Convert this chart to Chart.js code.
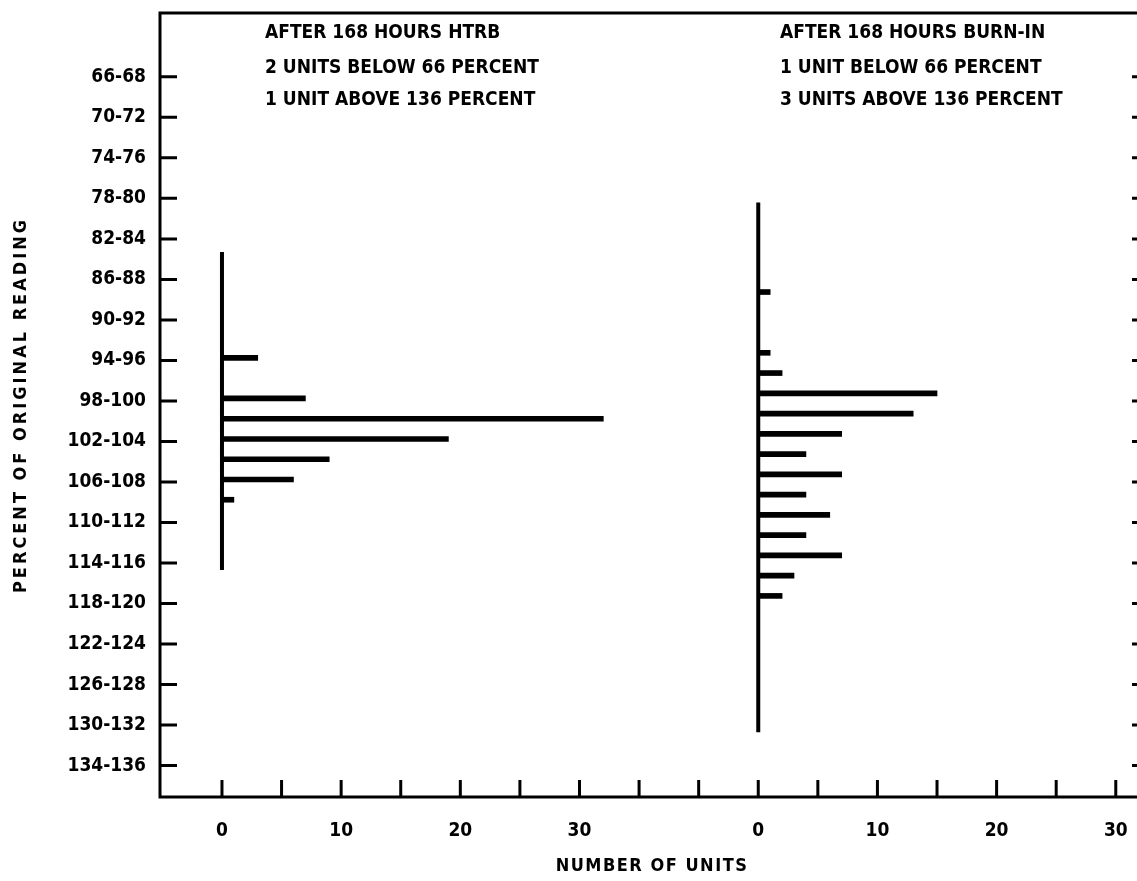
<!DOCTYPE html>
<html>
<head>
<meta charset="utf-8">
<title>Percent of original reading vs number of units</title>
<script src="https://cdn.jsdelivr.net/npm/chart.js@4.4.1/dist/chart.umd.min.js"></script>
<style>
  html, body { margin: 0; padding: 0; background: #fff; overflow: hidden; }
  #wrap { position: relative; width: 1150px; height: 881px; }
</style>
</head>
<body>
<div id="wrap"><canvas id="chart"></canvas></div>
<script>
  // ---- data ---------------------------------------------------------
  // y axis bins (percent of original reading), one label every 4 percent
  var binLabels = ['66-68', '70-72', '74-76', '78-80', '82-84', '86-88', '90-92',
                   '94-96', '98-100', '102-104', '106-108', '110-112', '114-116',
                   '118-120', '122-124', '126-128', '130-132', '134-136'];

  // after 168 hours HTRB (left panel)
  var htrbPct   = [95, 99, 101, 103, 105, 107, 109];
  var htrbUnits = [3, 7, 32, 19, 9, 6, 1];
  var htrbSpan  = [84.3, 115.7];

  // after 168 hours burn-in (right panel)
  var burnPct   = [88, 94, 96, 98, 100, 102, 104, 106, 108, 110, 112, 114, 116, 118];
  var burnUnits = [1, 1, 2, 15, 13, 7, 4, 7, 4, 6, 4, 7, 3, 2];
  var burnSpan  = [79.4, 131.7];

  var unitTicks = [0, 10, 20, 30];

  var htrbNotes = ['AFTER 168 HOURS HTRB', '2 UNITS BELOW 66 PERCENT', '1 UNIT ABOVE 136 PERCENT'];
  var burnNotes = ['AFTER 168 HOURS BURN-IN', '1 UNIT BELOW 66 PERCENT', '3 UNITS ABOVE 136 PERCENT'];

  // ---- layout helpers -----------------------------------------------
  var RIGHT_ZERO = 45;            // where the second panel's 0 sits on the shared x scale
  var FONT = '"DejaVu Sans Condensed", "DejaVu Sans", sans-serif';

  function binCenter(label) {
    var p = label.split('-');
    return (parseFloat(p[0]) + parseFloat(p[1])) / 2;
  }

  function bars(pct, units, zero) {
    return pct.map(function (p, i) { return { x: [zero, zero + units[i]], y: p }; });
  }

  function span(range, zero) {
    return [{ x: zero, y: range[0] }, { x: zero, y: range[1] }];
  }

  // frame, inward tick marks, notes and axis titles
  var framePlugin = {
    id: 'frame',
    afterDatasetsDraw: function (chart) {
      var ctx = chart.ctx, a = chart.chartArea;
      var xs = chart.scales.x, ys = chart.scales.y;
      ctx.save();
      ctx.strokeStyle = '#000';
      ctx.lineWidth = 3;
      ctx.strokeRect(a.left, a.top, a.right - a.left, a.bottom - a.top);

      ctx.beginPath();
      ys.ticks.forEach(function (t) {
        var y = ys.getPixelForValue(t.value);
        ctx.moveTo(a.left, y);  ctx.lineTo(a.left + 17, y);
        ctx.moveTo(a.right, y); ctx.lineTo(a.right - 10, y);
      });
      xs.ticks.forEach(function (t) {
        var x = xs.getPixelForValue(t.value);
        ctx.moveTo(x, a.bottom); ctx.lineTo(x, a.bottom - 17);
      });
      ctx.stroke();

      ctx.fillStyle = '#000';
      ctx.font = 'bold 19px ' + FONT;
      ctx.textBaseline = 'middle';
      ctx.textAlign = 'left';
      var lineY = [33, 68, 100];
      htrbNotes.forEach(function (s, i) { ctx.fillText(s, 265, lineY[i]); });
      burnNotes.forEach(function (s, i) { ctx.fillText(s, 780, lineY[i]); });

      // axis titles
      ctx.font = 'bold 18px ' + FONT;
      ctx.textAlign = 'center';
      if ('letterSpacing' in ctx) ctx.letterSpacing = '1.5px';
      ctx.fillText('NUMBER OF UNITS', 652, 866);

      ctx.translate(21, (a.top + a.bottom) / 2);
      ctx.rotate(-Math.PI / 2);
      if ('letterSpacing' in ctx) ctx.letterSpacing = '3px';
      ctx.fillText('PERCENT OF ORIGINAL READING', 0, 0);
      ctx.restore();
    }
  };

  // ---- chart -------------------------------------------------------
  document.addEventListener('DOMContentLoaded', function () {
    var canvas = document.getElementById('chart');

    new Chart(canvas, {
      type: 'bar',
      data: {
        datasets: [
          {
            type: 'bar', indexAxis: 'y',
            data: bars(htrbPct, htrbUnits, 0),
            backgroundColor: '#000', borderWidth: 0, barThickness: 5
          },
          {
            type: 'bar', indexAxis: 'y',
            data: bars(burnPct, burnUnits, RIGHT_ZERO),
            backgroundColor: '#000', borderWidth: 0, barThickness: 5
          },
          {
            type: 'line', data: span(htrbSpan, 0),
            borderColor: '#000', borderWidth: 4, pointRadius: 0, fill: false
          },
          {
            type: 'line', data: span(burnSpan, RIGHT_ZERO),
            borderColor: '#000', borderWidth: 4, pointRadius: 0, fill: false
          }
        ]
      },
      options: {
        responsive: true,
        maintainAspectRatio: false,
        animation: false,
        layout: { padding: { top: 13, right: 8, left: 0, bottom: 0 } },
        plugins: { legend: { display: false }, tooltip: { enabled: false } },
        scales: {
          x: {
            type: 'linear',
            position: 'bottom',
            offset: false,
            min: -5.2,
            max: 77.2,
            grid: { display: false, drawTicks: false, offset: false },
            border: { display: false },
            afterBuildTicks: function (scale) {
              var t = [];
              for (var v = 0; v <= 75; v += 5) t.push({ value: v });
              scale.ticks = t;
            },
            afterFit: function (scale) {
              scale.height = 84;
              scale.paddingLeft = 0;
              scale.paddingRight = 0;
            },
            ticks: {
              padding: 23,
              color: '#000',
              font: { family: FONT, size: 19, weight: 'bold' },
              maxRotation: 0,
              autoSkip: false,
              callback: function (v) {
                if (unitTicks.indexOf(v) >= 0) return String(v);
                if (unitTicks.indexOf(v - RIGHT_ZERO) >= 0) return String(v - RIGHT_ZERO);
                return '';
              }
            }
          },
          y: {
            type: 'linear',
            position: 'left',
            reverse: true,
            offset: false,
            min: 60.7,
            max: 138.1,
            grid: { display: false, drawTicks: false, offset: false },
            border: { display: false },
            afterBuildTicks: function (scale) {
              scale.ticks = binLabels.map(function (l) { return { value: binCenter(l) }; });
            },
            afterFit: function (scale) {
              scale.width = 160;
              scale.paddingTop = 0;
              scale.paddingBottom = 0;
            },
            ticks: {
              padding: 14,
              color: '#000',
              font: { family: FONT, size: 19, weight: 'bold' },
              autoSkip: false,
              callback: function (v, i) { return binLabels[i]; }
            }
          }
        }
      },
      plugins: [framePlugin]
    });
  });
</script>
</body>
</html>
